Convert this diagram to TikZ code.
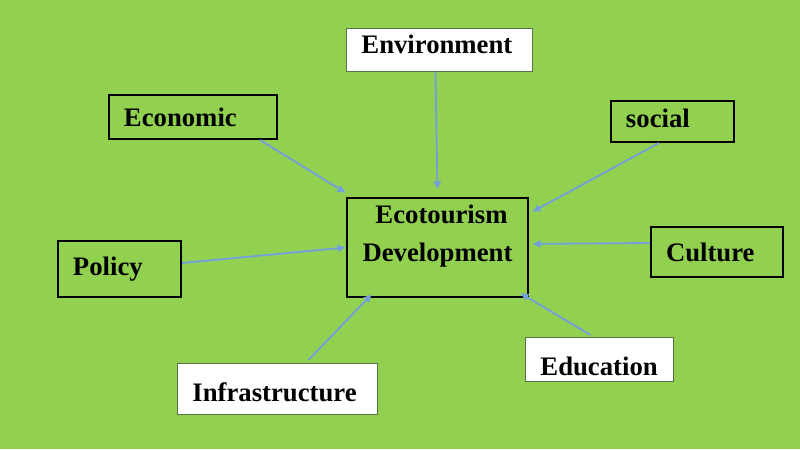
\documentclass[tikz,border=0pt]{standalone}
\usepackage{fontspec}
\setmainfont{Liberation Serif}
\usetikzlibrary{arrows.meta}
\definecolor{fundo}{RGB}{146,208,80}
\definecolor{setacor}{RGB}{115,160,220}
\definecolor{borda}{RGB}{85,115,70}

\begin{document}
\begin{tikzpicture}[x=0.025cm,y=-0.025cm,
  caixa/.style={rectangle, anchor=north west, draw=black, line width=1.4pt,
    inner xsep=0.375cm, inner ysep=0pt, align=left,
    font=\fontsize{19}{27}\selectfont\bfseries\hyphenpenalty10000},
  branca/.style={caixa, fill=white, draw=borda, line width=0.6pt},
  seta/.style={draw=setacor, line width=1.3pt, -{Latex[length=6pt,width=6pt]}}]
%\draw [lightgray](0,0) grid (800,449);

\fill [fundo] (0,0) rectangle (800,449); % fundo

\node [caixa, text width=3.775cm, minimum height=2.475cm, align=center, text depth=1.65cm] (center) at (346,197) {\hspace*{0.2cm}Ecotourism\\Development};

\node [branca, text width=3.9cm, minimum height=1.075cm, text depth=0.3cm] (env) at (346,28) {Environment};
\node [caixa, text width=3.45cm, minimum height=1.1cm] (econ) at (108,94) {Economic};
\node [caixa, text width=2.325cm, minimum height=1.025cm, text depth=0.15cm] (social) at (610,100) {social};
\node [caixa, text width=2.325cm, minimum height=1.4cm] (policy) at (57,240) {Policy};
\node [caixa, text width=2.55cm, minimum height=1.25cm] (culture) at (650,226) {Culture};
\node [branca, text width=2.95cm, minimum height=1.1cm, text height=0.8cm] (educ) at (525,337) {Education};
\node [branca, text width=4.25cm, minimum height=1.275cm, text height=0.65cm] (infra) at (177,363) {Infrastructure};

% setas
\draw [seta] ([xshift=-0.1cm]env.south) -- ([yshift=0.18cm]center.north);
\draw [seta] ([xshift=-0.45cm]econ.south east) -- ([yshift=0.1cm]center.north west);
\draw [seta] ([xshift=-0.34cm]social.south) -- ([xshift=0.075cm,yshift=-0.375cm]center.north east);
\draw [seta] ([yshift=0.15cm]policy.east) -- (center.west);
\draw [seta] ([yshift=0.225cm]culture.west) -- ([xshift=0.075cm,yshift=0.09cm]center.east);
\draw [seta] ([xshift=-0.225cm,yshift=0.05cm]educ.north) -- ([xshift=-0.225cm,yshift=0.125cm]center.south east);
\draw [seta] ([xshift=0.775cm,yshift=0.075cm]infra.north) -- ([xshift=0.65cm,yshift=0.1cm]center.south west);

\end{tikzpicture}
\end{document}
